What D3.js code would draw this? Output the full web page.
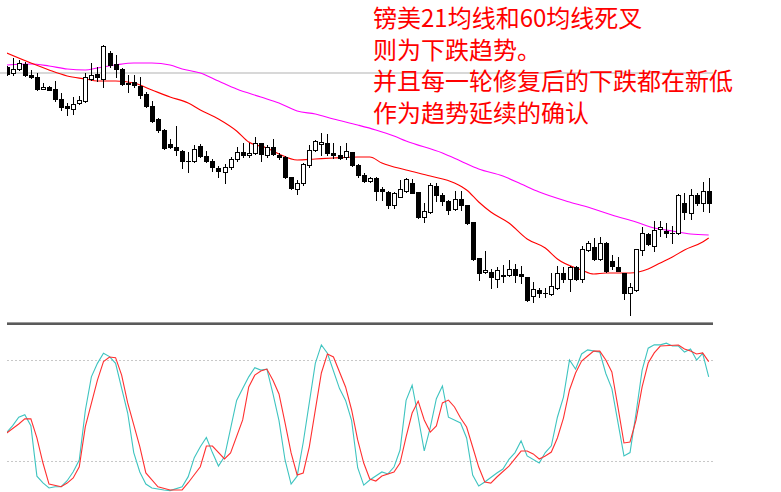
<!DOCTYPE html>
<html><head><meta charset="utf-8">
<script src="https://cdn.jsdelivr.net/npm/d3@7"></script>
<style>html,body{margin:0;padding:0;background:#fff;overflow:hidden}</style>
</head><body>
<script>
// ---- data (price units) ----
const openP  = [333,327,331,336,325,323,311,313,311,301,294,291,297,299,321,326,321,347,336,331,317,318,314,306,294,281,270,256,253,249,239,239,254,244,239,232,228,233,241,248,245,247,257,245,253,245,243,223,211,217,235,250,256,257,247,245,243,248,235,225,219,222,211,208,195,203,209,217,208,183,188,214,205,199,191,201,195,178,142,128,128,121,125,125,131,126,123,104,110,107,106,112,127,121,133,121,150,153,141,157,139,133,127,107,110,150,166,154,171,169,167,167,197,187,205,197,209];
const highP  = [334,342,340,338,330,327,317,314,319,307,297,303,304,327,337,333,355,349,345,332,325,325,323,308,299,282,271,261,274,250,248,255,256,249,241,234,236,243,253,257,257,263,257,255,261,247,244,223,220,237,255,260,267,266,257,254,257,248,236,227,223,223,213,209,208,220,222,221,208,197,217,217,207,200,209,209,195,178,142,149,131,133,135,140,136,134,123,118,112,112,127,134,133,134,134,154,159,162,163,158,145,143,127,117,151,173,167,179,179,177,174,206,207,211,207,218,222];
const lowP   = [325,325,330,324,322,310,311,310,299,290,285,286,296,298,320,319,313,333,323,315,308,313,302,293,278,268,251,252,245,232,228,238,243,238,229,223,217,231,239,243,243,246,239,243,245,241,222,211,206,215,233,249,245,245,242,241,241,234,223,218,218,200,200,192,192,203,208,207,182,178,187,199,195,186,190,190,176,140,120,127,112,113,118,124,118,117,99,98,103,103,105,111,118,109,120,118,149,140,140,128,131,129,101,85,109,145,155,149,164,163,157,166,181,181,195,189,188];
const closeP = [326,331,337,325,323,311,313,310,301,293,292,296,300,323,325,323,354,335,331,316,316,315,305,294,279,270,252,253,250,239,239,251,244,239,233,229,233,241,248,245,247,257,246,253,246,243,223,212,217,236,250,259,258,247,245,242,249,235,225,219,222,209,209,195,207,211,221,207,183,189,215,205,199,190,201,195,177,141,127,130,123,130,124,131,125,124,100,111,107,107,114,127,121,133,121,151,157,141,157,129,134,129,107,113,151,167,156,170,173,167,167,205,188,205,197,209,197];

// moving averages: [bar index, value]
const ma21Idx = [0,4,7,10,13,15,18,21,24,27,30,32,35,38,40,43,45,48,51,54,58,60,62,66,70,74,76,78,80,83,86,89,91,95,97,99,103,106,108,110,112,115,116];
const ma21Val = [347,337,330,324,321,319,319,317,310,303,297,290,281,269,258,252,246,240,241,242,243,243,237,230,224,217,210,198,188,177,161,152,141,130,126,127,127,131,137,143,150,158,162];
const ma60Idx = [0,4,7,10,13,15,18,21,24,27,29,32,35,38,42,45,48,51,54,58,61,64,66,72,75,78,82,85,88,93,97,100,104,107,110,113,116];
const ma60Val = [335,336,334,331,330,332,335,337,337,335,331,327,319,311,303,297,289,286,281,275,270,264,259,247,239,231,224,216,208,198,191,185,178,172,169,166,165];

// stochastic oscillator: %K (main) and %D (signal)
const stochKIdx = [0,1,2,3,4,5,6,7,8,9,10,11,12,13,14,15,16,17,18,20,21,22,23,24,26,27,29,30,31,32,33,34,35,36,38,39,40,41,42,43,44,45,46,47,48,49,51,52,53,55,56,57,58,59,60,62,63,64,65,66,67,68,69,70,71,72,73,75,76,77,78,79,81,82,83,84,85,86,88,89,90,91,92,93,94,95,96,98,99,100,102,103,104,105,106,107,108,109,110,111,112,113,114,115,116];
const stochKVal = [37,41,46,47.5,41,11,7,4,4.7,4.7,8.3,13.6,20.6,50,70,78,84,82,78,48.5,25,13.5,6.3,4,2.8,2.4,4.7,10.7,22,28.5,34,25,17,22.6,56,63,70,75.4,74,74.6,60,44,20.6,6.3,11,31,78,89,84,63,56,44,16,5.7,8.7,13.5,12.3,16.4,26.5,56,65,46,26,40,57,64.6,46,42.6,33.7,11.7,5.2,7.5,12.9,15.2,21,25,32,23,18.8,25,29,46,58,80,74.6,83.6,86,84.7,72,63,23,25,48.5,74,87,89,89,90,88.3,88.3,84.7,86.5,80,84,70];
const stochDIdx = [0,2,3,4,5,6,7,9,10,11,12,13,15,16,17,18,19,20,22,23,25,27,29,30,32,33,34,36,37,39,40,41,42,43,44,45,46,47,48,49,50,52,53,54,56,57,58,59,60,61,62,64,65,66,67,68,69,70,71,72,73,74,75,76,77,78,79,80,81,83,85,86,87,88,89,90,91,92,93,94,95,96,97,98,99,100,101,102,103,104,105,106,107,108,111,112,113,114,115,116];
const stochDVal = [36.6,42,45,45,33.7,18.8,6.3,4.7,6.9,9.9,16.6,40.4,68,79,81.8,81.4,71,54.5,28.5,12.9,4.7,2.8,2.8,7.1,16.6,28.9,28.9,21.2,24.8,44.4,64,71,73.5,74.6,68,59.8,42.6,24.8,11.7,12.9,28.3,72.3,83.6,81.8,64,50.3,32.5,18.8,9.3,8.1,11.1,13.5,18.8,34.3,48.5,55.6,44.4,37.2,40.8,54.5,56.2,52.1,45.5,40.2,28.3,16.4,7.5,6.9,10.5,17,25.9,25.9,24.2,21.2,23,25.3,33.7,45.5,62.2,72.3,79.4,82.4,85.3,85.3,80,72.9,52.1,30.7,31.3,44.4,64,78.2,84.2,88.3,88.9,86.5,85.3,83.6,84.2,79];
const stochLevels = [80, 20];
const hLinePrice = 327;

const noteLines = ["镑美21均线和60均线死叉","则为下跌趋势。","并且每一轮修复后的下跌都在新低","作为趋势延续的确认"];

// ---- drawing ----
const W = 781, H = 492;
const svg = d3.select("body").append("svg").attr("width", W).attr("height", H)
  .style("display","block").style("font-family","'Noto Sans CJK SC','Noto Sans',sans-serif");

const x = d3.scaleLinear().domain([0, 116]).range([6.65, 708.7]);
const y = d3.scaleLinear().domain([70, 360]).range([330, 40]);
const ys = d3.scaleLinear().domain([20, 80]).range([461, 360]);

const defs = svg.append("defs");
defs.append("clipPath").attr("id","topClip").append("rect").attr("x",7).attr("y",0).attr("width",713).attr("height",321);
defs.append("clipPath").attr("id","botClip").append("rect").attr("x",7).attr("y",327).attr("width",707).attr("height",170);

// horizontal price line
svg.append("rect").attr("x",0).attr("y",Math.round(y(hLinePrice))-1).attr("width",713).attr("height",2).attr("fill","#d8d8d8");

const topG = svg.append("g").attr("clip-path","url(#topClip)");

// moving averages
const maLine = d3.line().x(d=>x(d[0])).y(d=>y(d[1])).curve(d3.curveMonotoneX);
topG.append("path").datum(ma60Idx.map((d,i)=>[d,ma60Val[i]])).attr("d",maLine)
  .attr("fill","none").attr("stroke","#ff00ff").attr("stroke-width",1.1);
topG.append("path").datum(ma21Idx.map((d,i)=>[d,ma21Val[i]])).attr("d",maLine)
  .attr("fill","none").attr("stroke","#ff0000").attr("stroke-width",1.1);

// candles
const bars = d3.range(openP.length).map(i=>({i,o:openP[i],h:highP[i],l:lowP[i],c:closeP[i]}));
const cg = topG.append("g").attr("shape-rendering","crispEdges");
bars.forEach(b=>{
  const c = Math.round(x(b.i));
  cg.append("line").attr("x1",c+0.5).attr("x2",c+0.5)
    .attr("y1",Math.round(y(b.h))).attr("y2",Math.round(y(b.l))+1)
    .attr("stroke","#000").attr("stroke-width",1);
  const t = Math.round(y(Math.max(b.o,b.c))), bt = Math.round(y(Math.min(b.o,b.c)));
  if (bt - t < 1) {
    cg.append("rect").attr("x",c-2).attr("y",t).attr("width",5).attr("height",1).attr("fill","#000");
  } else {
    const bull = b.c > b.o;
    cg.append("rect").attr("x",c-1.5).attr("y",t+0.5).attr("width",4).attr("height",bt-t)
      .attr("fill", bull ? "#fff" : "#000").attr("stroke","#000").attr("stroke-width",1);
  }
});

// separator
svg.append("rect").attr("x",7).attr("y",322).attr("width",706).attr("height",1).attr("fill","#9a9a9a");
svg.append("rect").attr("x",7).attr("y",323).attr("width",706).attr("height",2).attr("fill","#5a5a5a");

// stochastic panel
const botG = svg.append("g").attr("clip-path","url(#botClip)");
stochLevels.forEach(v=>{
  botG.append("line").attr("x1",7).attr("x2",713).attr("y1",Math.round(ys(v))+0.5).attr("y2",Math.round(ys(v))+0.5)
    .attr("stroke","#c8c8c8").attr("stroke-width",1).attr("stroke-dasharray","2,2");
});
const sLine = d3.line().x(d=>x(d[0])).y(d=>ys(d[1]));
botG.append("path").datum(stochKIdx.map((d,i)=>[d,stochKVal[i]])).attr("d",sLine)
  .attr("fill","none").attr("stroke","#3ec4c0").attr("stroke-width",1.1);
botG.append("path").datum(stochDIdx.map((d,i)=>[d,stochDVal[i]])).attr("d",sLine)
  .attr("fill","none").attr("stroke","#ff3030").attr("stroke-width",1.1);

// annotation
const tg = svg.append("g").attr("fill","#ff0000").attr("font-size","24px");
noteLines.forEach((s,k)=>{
  tg.append("text").attr("x",373).attr("y",27 + k*31.7).text(s);
});
</script>
</body></html>
